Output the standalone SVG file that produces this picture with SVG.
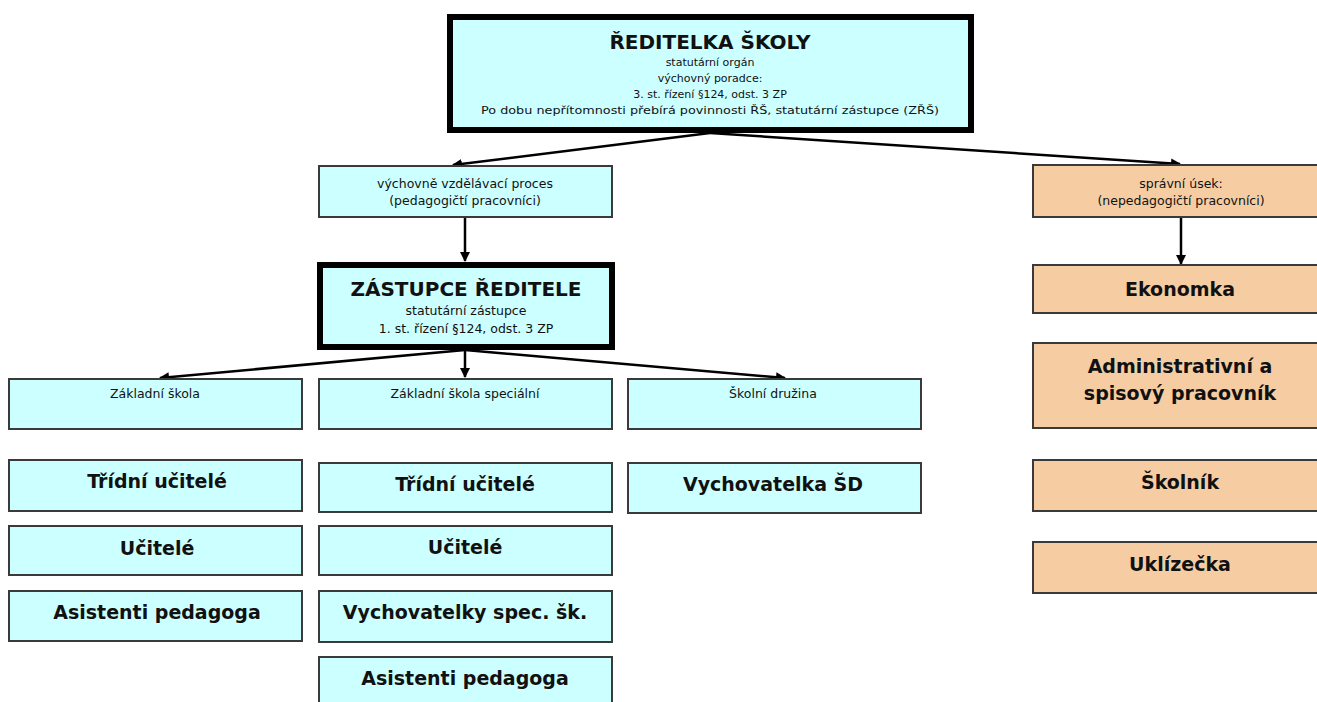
<svg xmlns="http://www.w3.org/2000/svg" width="1317" height="702" viewBox="0 0 1317 702">
<style>
.c{fill:#ccffff;stroke:#3a3a3a;stroke-width:2}
.o{fill:#f6cda3;stroke:#3a3a3a;stroke-width:2}
.thick{fill:#ccffff;stroke:#000;stroke-width:6}
text{font-family:"DejaVu Sans","Noto Sans",sans-serif;text-anchor:middle;fill:#111}
.b{font-weight:bold;font-size:19px}
.h{font-weight:bold;font-size:20px}
.s{font-size:11px}
.m{font-size:12.5px}
.conn line{stroke:#000;stroke-width:2.5;fill:none}
</style>
<defs>
<marker id="ah" viewBox="0 0 10 10" refX="9" refY="5" markerWidth="4" markerHeight="4" orient="auto" markerUnits="strokeWidth">
<path d="M0,0 L10,5 L0,10 z" fill="#000"/>
</marker>
</defs>
<rect width="1317" height="702" fill="#fff"/>
<g class="conn">
<line x1="710" y1="133" x2="453" y2="165" marker-end="url(#ah)"/>
<line x1="710" y1="133" x2="1180" y2="164" marker-end="url(#ah)"/>
<line x1="465" y1="217" x2="465" y2="261" marker-end="url(#ah)"/>
<line x1="1181" y1="217" x2="1181" y2="264" marker-end="url(#ah)"/>
<line x1="465" y1="350" x2="160" y2="378" marker-end="url(#ah)"/>
<line x1="465" y1="350" x2="465" y2="377" marker-end="url(#ah)"/>
<line x1="465" y1="350" x2="785" y2="378" marker-end="url(#ah)"/>
</g>
<g id="reditelka">
<rect class="thick" x="450" y="17" width="521" height="113"/>
<text class="h" x="710" y="49">ŘEDITELKA ŠKOLY</text>
<text class="s" x="710" y="66">statutární orgán</text>
<text class="s" x="710" y="82">výchovný poradce:</text>
<text class="s" x="710" y="98">3. st. řízení §124, odst. 3 ZP</text>
<text class="s" x="710" y="114" textLength="458" lengthAdjust="spacingAndGlyphs">Po dobu nepřítomnosti přebírá povinnosti ŘŠ, statutární zástupce (ZŘŠ)</text>
</g>
<g id="vvp">
<rect class="c" x="319" y="166" width="293" height="51"/>
<text class="m" x="465" y="188">výchovně vzdělávací proces</text>
<text class="m" x="465" y="205">(pedagogičtí pracovníci)</text>
</g>
<g id="spravni">
<rect class="o" x="1033" y="165" width="300" height="52"/>
<text class="m" x="1181" y="188">správní úsek:</text>
<text class="m" x="1181" y="205">(nepedagogičtí pracovníci)</text>
</g>
<g id="zastupce">
<rect class="thick" x="320" y="265" width="292" height="82"/>
<text class="h" x="466" y="296" font-size="21">ZÁSTUPCE ŘEDITELE</text>
<text class="m" x="466" y="315">statutární zástupce</text>
<text class="m" x="466" y="333">1. st. řízení §124, odst. 3 ZP</text>
</g>
<g id="ekonomka">
<rect class="o" x="1033" y="265" width="300" height="48"/>
<text class="b" x="1180" y="296">Ekonomka</text>
</g>
<g id="admin">
<rect class="o" x="1033" y="343" width="300" height="85"/>
<text class="b" x="1180" y="373">Administrativní a</text>
<text class="b" x="1180" y="400">spisový pracovník</text>
</g>
<g id="skolnik">
<rect class="o" x="1033" y="460" width="300" height="51"/>
<text class="b" x="1180" y="489">Školník</text>
</g>
<g id="uklizecka">
<rect class="o" x="1033" y="542" width="300" height="51"/>
<text class="b" x="1180" y="571">Uklízečka</text>
</g>
<g id="zs">
<rect class="c" x="9" y="379" width="293" height="50"/>
<text class="m" x="155" y="398">Základní škola</text>
</g>
<g id="zss">
<rect class="c" x="319" y="379" width="293" height="50"/>
<text class="m" x="465" y="398">Základní škola speciální</text>
</g>
<g id="sd">
<rect class="c" x="628" y="379" width="293" height="50"/>
<text class="m" x="773" y="398">Školní družina</text>
</g>
<g id="zs-tridni">
<rect class="c" x="9" y="460" width="293" height="51"/>
<text class="b" x="157" y="488">Třídní učitelé</text>
</g>
<g id="zs-ucitele">
<rect class="c" x="9" y="526" width="293" height="49"/>
<text class="b" x="157" y="555">Učitelé</text>
</g>
<g id="zs-asistenti">
<rect class="c" x="9" y="591" width="293" height="50"/>
<text class="b" x="157" y="619">Asistenti pedagoga</text>
</g>
<g id="zss-tridni">
<rect class="c" x="319" y="463" width="293" height="49"/>
<text class="b" x="465" y="491">Třídní učitelé</text>
</g>
<g id="zss-ucitele">
<rect class="c" x="319" y="526" width="293" height="49"/>
<text class="b" x="465" y="554">Učitelé</text>
</g>
<g id="zss-vychovatelky">
<rect class="c" x="319" y="591" width="293" height="51"/>
<text class="b" x="465" y="619">Vychovatelky spec. šk.</text>
</g>
<g id="zss-asistenti">
<rect class="c" x="319" y="657" width="293" height="50"/>
<text class="b" x="465" y="685">Asistenti pedagoga</text>
</g>
<g id="sd-vychovatelka">
<rect class="c" x="628" y="463" width="293" height="50"/>
<text class="b" x="773" y="491">Vychovatelka ŠD</text>
</g>
</svg>
